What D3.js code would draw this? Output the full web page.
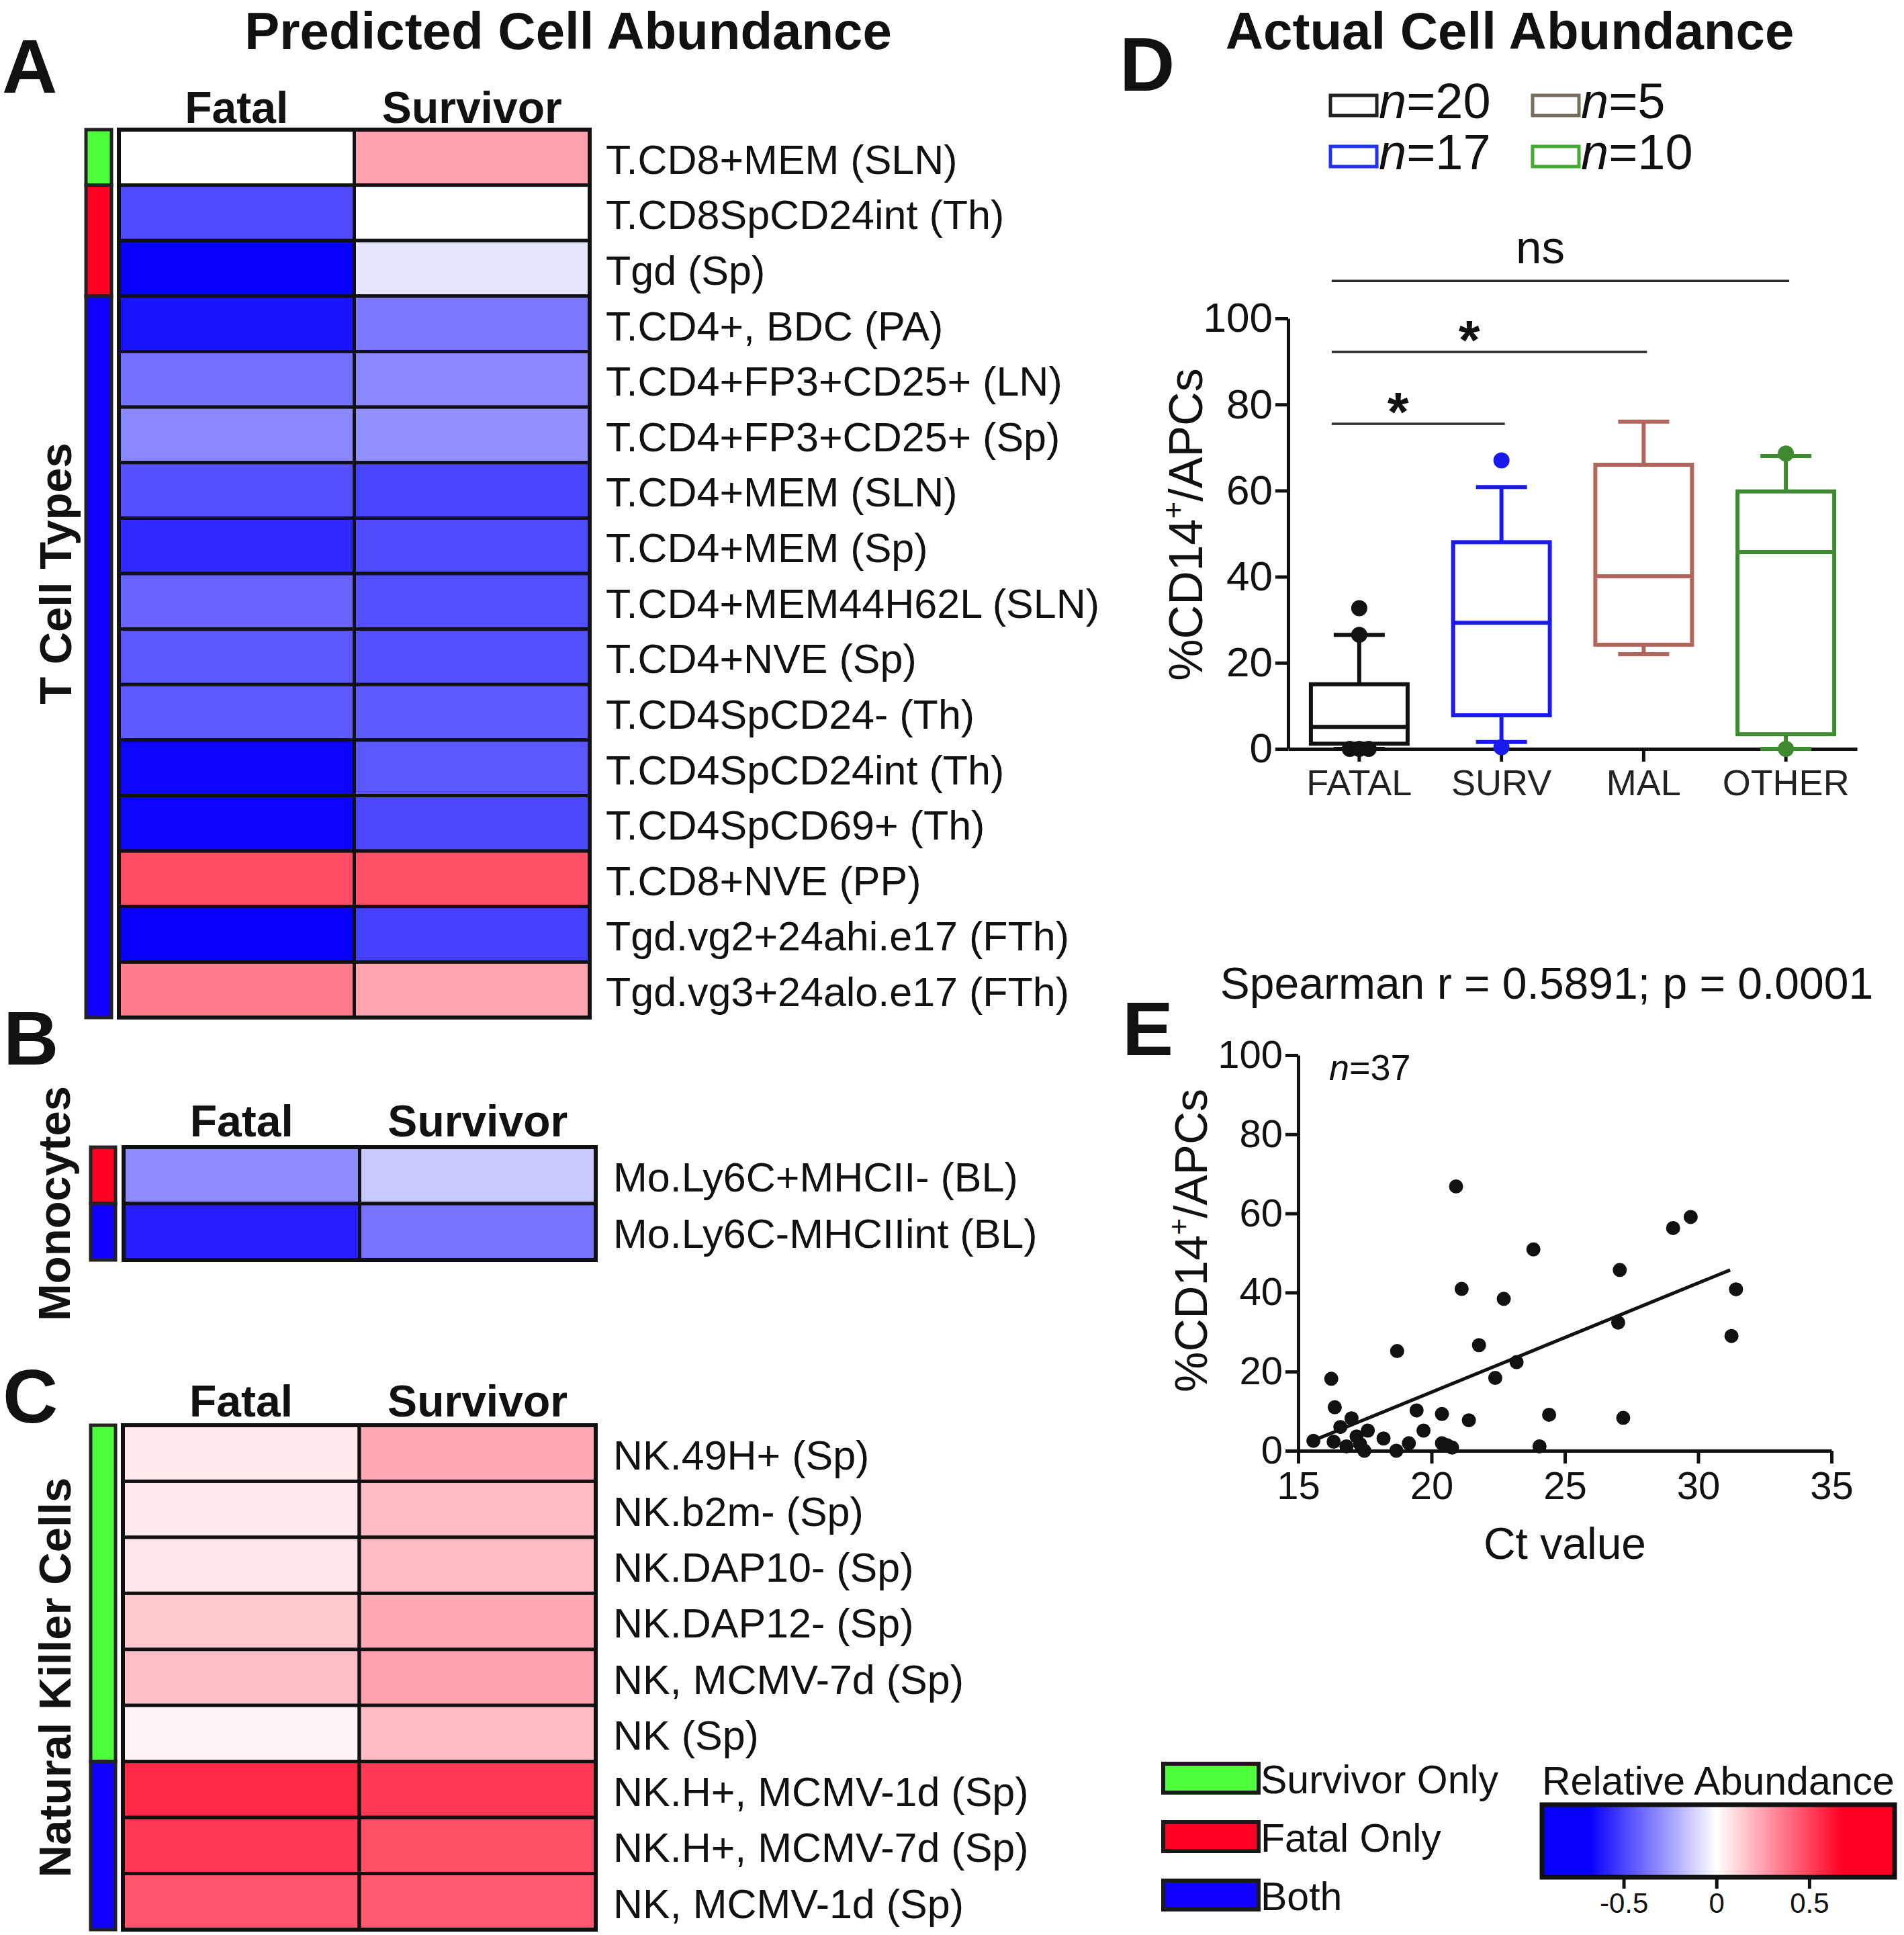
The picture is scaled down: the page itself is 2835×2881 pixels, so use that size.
<!DOCTYPE html>
<html>
<head>
<meta charset="utf-8">
<script src="https://cdn.jsdelivr.net/npm/d3@7"></script>
<style>
  body { margin: 0; background: #fff; }
</style>
</head>
<body>
<div id="chart"></div>
<script>
// ---- data ----
const heatCols = ["Fatal", "Survivor"];

const tCellLabels = ["T.CD8+MEM (SLN)", "T.CD8SpCD24int (Th)", "Tgd (Sp)", "T.CD4+, BDC (PA)",
  "T.CD4+FP3+CD25+ (LN)", "T.CD4+FP3+CD25+ (Sp)", "T.CD4+MEM (SLN)", "T.CD4+MEM (Sp)",
  "T.CD4+MEM44H62L (SLN)", "T.CD4+NVE (Sp)", "T.CD4SpCD24- (Th)", "T.CD4SpCD24int (Th)",
  "T.CD4SpCD69+ (Th)", "T.CD8+NVE (PP)", "Tgd.vg2+24ahi.e17 (FTh)", "Tgd.vg3+24alo.e17 (FTh)"];
const tCellFatal = [0, -0.48, -0.68, -0.63, -0.38, -0.32, -0.47, -0.57, -0.41, -0.45, -0.44, -0.67, -0.67, 0.48, -0.70, 0.35];
const tCellSurv = [0.25, 0, -0.07, -0.36, -0.32, -0.30, -0.50, -0.48, -0.47, -0.47, -0.44, -0.45, -0.49, 0.47, -0.51, 0.24];
const tCellType = ["S", "F", "F", "B", "B", "B", "B", "B", "B", "B", "B", "B", "B", "B", "B", "B"];

const monoLabels = ["Mo.Ly6C+MHCII- (BL)", "Mo.Ly6C-MHCIIint (BL)"];
const monoFatal = [-0.31, -0.60];
const monoSurv = [-0.15, -0.37];
const monoType = ["F", "B"];

const nkLabels = ["NK.49H+ (Sp)", "NK.b2m- (Sp)", "NK.DAP10- (Sp)", "NK.DAP12- (Sp)", "NK, MCMV-7d (Sp)",
  "NK (Sp)", "NK.H+, MCMV-1d (Sp)", "NK.H+, MCMV-7d (Sp)", "NK, MCMV-1d (Sp)"];
const nkFatal = [0.06, 0.06, 0.07, 0.15, 0.17, 0.03, 0.57, 0.53, 0.45];
const nkSurv = [0.23, 0.18, 0.18, 0.23, 0.25, 0.18, 0.53, 0.47, 0.44];
const nkType = ["S", "S", "S", "S", "S", "S", "B", "B", "B"];

const typeLabels = ["Survivor Only", "Fatal Only", "Both"];

const boxCats = ["FATAL", "SURV", "MAL", "OTHER"];
const boxN = ["20", "17", "5", "10"];
const boxQ1 = [1.2, 7.8, 24.2, 3.4];
const boxMed = [5.1, 29.3, 40.1, 45.7];
const boxQ3 = [15.0, 48.0, 66.0, 59.8];
const boxLow = [0, 1.6, 22.0, 0];
const boxHigh = [26.5, 60.8, 76.0, 68.0];
const boxOut = [[32.7, 26.5, 0, 0, 0], [67.0, 0.4], [], [68.6, 0]];
const sigTo = ["SURV", "MAL", "OTHER"];
const sigLabel = ["*", "*", "ns"];
const sigLevel = [75.5, 92.2, 108.7];

const ctValue = [15.57, 16.24, 16.37, 16.33, 16.58, 16.81, 17.0, 17.19, 17.32, 17.48, 17.61, 18.2, 18.71,
  18.68, 19.15, 19.44, 19.70, 20.39, 20.39, 20.58, 20.77, 20.92, 21.13, 21.4, 21.78, 22.39, 22.71,
  23.19, 23.82, 24.05, 24.41, 27.06, 27.0, 27.19, 29.06, 29.72, 31.25, 31.42];
const cd14Pct = [2.5, 18.2, 11.0, 2.3, 6.0, 1.1, 8.2, 3.6, 1.7, 0, 5.1, 3.1, 25.2,
  0, 1.9, 10.2, 5.1, 9.3, 1.9, 1.4, 0.8, 66.8, 40.9, 7.7, 26.7, 18.4, 38.4,
  22.4, 50.9, 1.1, 9.1, 45.7, 32.4, 8.3, 56.3, 59.1, 29.0, 40.8];
const fitX = [15.5, 31.2];
const fitY = [2.4, 45.7];

const cbTicks = [-0.5, 0, 0.5];

// ---- setup ----
const W = 2835, H = 2881;
const font = '"Liberation Sans", Arial, Helvetica, sans-serif';
const ink = "#111";

const svg = d3.select("#chart").append("svg")
  .attr("width", W).attr("height", H)
  .attr("viewBox", `0 0 ${W} ${H}`)
  .style("font-family", font)
  .style("background", "#fff");

const heatColor = d3.scaleLinear()
  .domain([-0.68, 0, 0.68])
  .range(["#0800ff", "#ffffff", "#ff0022"])
  .clamp(true);
const typeColor = {S: "#4cff3a", F: "#ff0022", B: "#1000ff"};

// panel letters
[["A", 3, 138], ["B", 5, 1585], ["C", 4, 2118], ["D", 1667, 135], ["E", 1671, 1571]].forEach(l => {
  svg.append("text").attr("x", l[1]).attr("y", l[2])
    .attr("font-size", 114).attr("font-weight", "bold").attr("fill", ink).text(l[0]);
});

// titles
svg.append("text").attr("x", 846).attr("y", 73).attr("text-anchor", "middle")
  .attr("font-size", 78).attr("font-weight", "bold").attr("fill", ink)
  .text("Predicted Cell Abundance");
svg.append("text").attr("x", 2248).attr("y", 73).attr("text-anchor", "middle")
  .attr("font-size", 78).attr("font-weight", "bold").attr("fill", ink)
  .text("Actual Cell Abundance");

// ---- heatmaps ----
function heatPanel(p) {
  const g = svg.append("g");
  const y = d3.scaleBand().domain(p.labels).range([p.y0, p.y1]);
  const x = d3.scaleBand().domain(heatCols).range([p.x0, p.x1]);

  const cells = [];
  p.labels.forEach((lab, i) => {
    cells.push({row: lab, col: "Fatal", v: p.fatal[i]});
    cells.push({row: lab, col: "Survivor", v: p.surv[i]});
  });

  g.selectAll("rect.cell").data(cells).join("rect")
    .attr("class", "cell")
    .attr("x", d => x(d.col)).attr("y", d => y(d.row))
    .attr("width", x.bandwidth()).attr("height", y.bandwidth())
    .attr("fill", d => heatColor(d.v))
    .attr("stroke", ink).attr("stroke-width", 5);

  g.append("rect")
    .attr("x", p.x0).attr("y", p.y0)
    .attr("width", p.x1 - p.x0).attr("height", p.y1 - p.y0)
    .attr("fill", "none").attr("stroke", ink).attr("stroke-width", 6);

  // side bar: merge consecutive rows of the same type
  const runs = [];
  p.types.forEach((t, i) => {
    const last = runs[runs.length - 1];
    if (last && last.t === t) last.end = i;
    else runs.push({t: t, start: i, end: i});
  });
  g.selectAll("rect.side").data(runs).join("rect")
    .attr("class", "side")
    .attr("x", p.barX).attr("y", d => y(p.labels[d.start]))
    .attr("width", p.barW)
    .attr("height", d => y(p.labels[d.end]) + y.bandwidth() - y(p.labels[d.start]))
    .attr("fill", d => typeColor[d.t])
    .attr("stroke", "#222").attr("stroke-width", 5);

  g.selectAll("text.hdr").data(heatCols).join("text")
    .attr("class", "hdr")
    .attr("x", d => x(d) + x.bandwidth() / 2).attr("y", p.headerY)
    .attr("text-anchor", "middle").attr("font-size", 66).attr("font-weight", "bold")
    .attr("fill", ink).text(d => d);

  g.selectAll("text.row").data(p.labels).join("text")
    .attr("class", "row")
    .attr("x", p.labelX).attr("y", d => y(d) + y.bandwidth() / 2)
    .attr("dy", "0.4em").attr("font-size", 61).attr("fill", ink)
    .text(d => d);

  g.append("text")
    .attr("transform", `translate(${p.titleX}, ${(p.y0 + p.y1) / 2}) rotate(-90)`)
    .attr("text-anchor", "middle").attr("font-size", 67).attr("font-weight", "bold")
    .attr("fill", ink).text(p.title);
}

heatPanel({labels: tCellLabels, fatal: tCellFatal, surv: tCellSurv, types: tCellType, title: "T Cell Types",
  x0: 177, x1: 878, y0: 193, y1: 1515, barX: 128, barW: 38, labelX: 902, headerY: 183, titleX: 106});
heatPanel({labels: monoLabels, fatal: monoFatal, surv: monoSurv, types: monoType, title: "Monocytes",
  x0: 184, x1: 887, y0: 1708, y1: 1876, barX: 135, barW: 37, labelX: 913, headerY: 1692, titleX: 104});
heatPanel({labels: nkLabels, fatal: nkFatal, surv: nkSurv, types: nkType, title: "Natural Killer Cells",
  x0: 183, x1: 887, y0: 2122, y1: 2873, barX: 135, barW: 37, labelX: 913, headerY: 2109, titleX: 105});

// ---- legend for row types ----
const typeKeys = ["S", "F", "B"];
const legY = d3.scaleBand().domain(typeKeys).range([2626, 2887]);
const leg = svg.append("g");
leg.selectAll("rect").data(typeKeys).join("rect")
  .attr("x", 1732).attr("y", d => legY(d))
  .attr("width", 142).attr("height", 43)
  .attr("fill", d => typeColor[d]).attr("stroke", "#1a1a1a").attr("stroke-width", 6);
leg.selectAll("text").data(typeKeys).join("text")
  .attr("x", 1877).attr("y", d => legY(d) + 44)
  .attr("font-size", 59).attr("fill", ink)
  .text((d, i) => typeLabels[i]);

// ---- colour bar ----
const cb = svg.append("g");
const cbX = d3.scaleLinear().domain([-0.94, 0.96]).range([2296, 2821]);
const grad = svg.append("defs").append("linearGradient").attr("id", "cbgrad");
d3.range(-0.94, 0.961, 0.02).forEach(v => {
  grad.append("stop").attr("offset", ((v + 0.94) / 1.9 * 100) + "%").attr("stop-color", heatColor(v));
});
cb.append("text").attr("x", 2296).attr("y", 2672).attr("font-size", 59).attr("fill", ink)
  .text("Relative Abundance");
cb.append("rect").attr("x", 2296).attr("y", 2687).attr("width", 525).attr("height", 108)
  .attr("fill", "url(#cbgrad)").attr("stroke", ink).attr("stroke-width", 7);
const cbAxis = cb.append("g").attr("transform", "translate(0, 2798)")
  .call(d3.axisBottom(cbX).tickValues(cbTicks).tickSize(14).tickPadding(6).tickFormat(d => String(d)));
cbAxis.select(".domain").remove();
cbAxis.selectAll("line").attr("stroke", ink).attr("stroke-width", 5);
cbAxis.selectAll("text").attr("font-family", font).attr("font-size", 42).attr("fill", ink);

// ---- panel D: box plots ----
const yD = d3.scaleLinear().domain([0, 100]).range([1115, 474]);
const xD = d3.scaleBand().domain(boxCats).range([1918, 2765]);
const boxColor = ["#111111", "#1a1aee", "#b0665c", "#3f8a30"];
const legendBoxColor = ["#222222", "#2233ee", "#77705f", "#44aa33"];
const gD = svg.append("g");

function styleAxis(a, fs) {
  a.attr("font-family", font).attr("font-size", fs);
  a.select(".domain").attr("stroke", ink).attr("stroke-width", 5);
  a.selectAll(".tick line").attr("stroke", ink).attr("stroke-width", 5);
  a.selectAll(".tick text").attr("fill", ink);
}

const axDy = gD.append("g").attr("transform", "translate(1918, 0)")
  .call(d3.axisLeft(yD).tickValues(d3.range(0, 101, 20)).tickSize(19).tickSizeOuter(0).tickPadding(4));
styleAxis(axDy, 62);
const axDx = gD.append("g").attr("transform", "translate(0, 1115)")
  .call(d3.axisBottom(xD).tickSize(19).tickSizeOuter(0).tickPadding(12));
styleAxis(axDx, 54);
axDx.selectAll(".tick text").attr("fill", "#222");

gD.append("text")
  .attr("transform", `translate(1790, ${781}) rotate(-90)`)
  .attr("text-anchor", "middle").attr("font-size", 70).attr("fill", ink)
  .call(t => {
    t.append("tspan").text("%CD14");
    t.append("tspan").attr("font-size", 44).attr("dy", -28).text("+");
    t.append("tspan").attr("dy", 28).text("/APCs");
  });

const half = 72, capHalf = 38;
boxCats.forEach((c, i) => {
  const cx = xD(c) + xD.bandwidth() / 2;
  const col = boxColor[i];
  const b = gD.append("g").attr("stroke", col).attr("stroke-width", 6).attr("fill", "none");
  b.append("line").attr("x1", cx).attr("x2", cx).attr("y1", yD(boxQ3[i])).attr("y2", yD(boxHigh[i]));
  b.append("line").attr("x1", cx).attr("x2", cx).attr("y1", yD(boxQ1[i])).attr("y2", yD(boxLow[i]));
  b.append("line").attr("x1", cx - capHalf).attr("x2", cx + capHalf).attr("y1", yD(boxHigh[i])).attr("y2", yD(boxHigh[i]));
  b.append("line").attr("x1", cx - capHalf).attr("x2", cx + capHalf).attr("y1", yD(boxLow[i])).attr("y2", yD(boxLow[i]));
  b.append("rect").attr("x", cx - half).attr("y", yD(boxQ3[i]))
    .attr("width", half * 2).attr("height", yD(boxQ1[i]) - yD(boxQ3[i]));
  b.append("line").attr("x1", cx - half).attr("x2", cx + half).attr("y1", yD(boxMed[i])).attr("y2", yD(boxMed[i]));

  // outliers; equal values are spread a little sideways
  const pts = boxOut[i].map((v, k) => {
    const same = boxOut[i].filter(u => u === v);
    const idx = boxOut[i].slice(0, k).filter(u => u === v).length;
    return {v: v, dx: (idx - (same.length - 1) / 2) * 14};
  });
  gD.selectAll(null).data(pts).join("circle")
    .attr("cx", d => cx + d.dx).attr("cy", d => yD(d.v)).attr("r", 12)
    .attr("fill", col);
});

// legend for D
const legCol = d3.scaleBand().domain([0, 1]).range([1981, 2583]);
const legRow = d3.scaleBand().domain([0, 1]).range([100, 252]);
const legOrder = [0, 2, 1, 3]; // FATAL, MAL on first row; SURV, OTHER on second
legOrder.forEach((ci, k) => {
  const x0 = legCol(k % 2), base = legRow(Math.floor(k / 2)) + legRow.bandwidth();
  gD.append("rect").attr("x", x0).attr("y", base - 34).attr("width", 69).attr("height", 30)
    .attr("fill", "#fff").attr("stroke", legendBoxColor[ci]).attr("stroke-width", 5);
  const t = gD.append("text").attr("x", x0 + 72).attr("y", base).attr("font-size", 74).attr("fill", ink);
  t.append("tspan").attr("font-style", "italic").text("n");
  t.append("tspan").text("=" + boxN[ci]);
});

// significance bars
const fatalX = xD("FATAL") + xD.bandwidth() / 2;
sigTo.forEach((c, i) => {
  const x1 = fatalX - 41;
  const x2 = xD(c) + xD.bandwidth() / 2 + 5;
  const yy = yD(sigLevel[i]);
  gD.append("line").attr("x1", x1).attr("x2", x2).attr("y1", yy).attr("y2", yy)
    .attr("stroke", "#2a2a2a").attr("stroke-width", 3.5);
  const mid = (x1 + x2) / 2 - 30;
  if (sigLabel[i] === "*") {
    gD.append("text").attr("x", mid).attr("y", yy + 10).attr("text-anchor", "middle")
      .attr("font-size", 82).attr("font-weight", "bold").attr("fill", ink).text("*");
  } else {
    gD.append("text").attr("x", mid).attr("y", yy - 26).attr("text-anchor", "middle")
      .attr("font-size", 69).attr("fill", ink).text(sigLabel[i]);
  }
});

// ---- panel E: scatter ----
const xE = d3.scaleLinear().domain([15, 35]).range([1933, 2727]);
const yE = d3.scaleLinear().domain([0, 100]).range([2160, 1571]);
const gE = svg.append("g");

gE.append("text").attr("x", 2303).attr("y", 1487).attr("text-anchor", "middle")
  .attr("font-size", 66).attr("fill", ink).text("Spearman r = 0.5891; p = 0.0001");

const axEy = gE.append("g").attr("transform", "translate(1933, 0)")
  .call(d3.axisLeft(yE).tickValues(d3.range(0, 101, 20)).tickSize(19).tickSizeOuter(0).tickPadding(4));
styleAxis(axEy, 58);
const axEx = gE.append("g").attr("transform", "translate(0, 2160)")
  .call(d3.axisBottom(xE).tickValues(d3.range(15, 36, 5)).tickSize(19).tickSizeOuter(0).tickPadding(12));
styleAxis(axEx, 58);

gE.append("text")
  .attr("transform", "translate(1797, 1847) rotate(-90)")
  .attr("text-anchor", "middle").attr("font-size", 68).attr("fill", ink)
  .call(t => {
    t.append("tspan").text("%CD14");
    t.append("tspan").attr("font-size", 43).attr("dy", -27).text("+");
    t.append("tspan").attr("dy", 27).text("/APCs");
  });

gE.append("text").attr("x", 2330).attr("y", 2321).attr("text-anchor", "middle")
  .attr("font-size", 66).attr("fill", ink).text("Ct value");

const nText = gE.append("text").attr("x", 1979).attr("y", 1608).attr("font-size", 54).attr("fill", ink);
nText.append("tspan").attr("font-style", "italic").text("n");
nText.append("tspan").text("=37");

gE.append("line")
  .attr("x1", xE(fitX[0])).attr("y1", yE(fitY[0]))
  .attr("x2", xE(fitX[1])).attr("y2", yE(fitY[1]))
  .attr("stroke", ink).attr("stroke-width", 5);

gE.selectAll("circle").data(ctValue).join("circle")
  .attr("cx", d => xE(d)).attr("cy", (d, i) => yE(cd14Pct[i])).attr("r", 10.5)
  .attr("fill", ink);
</script>
</body>
</html>
